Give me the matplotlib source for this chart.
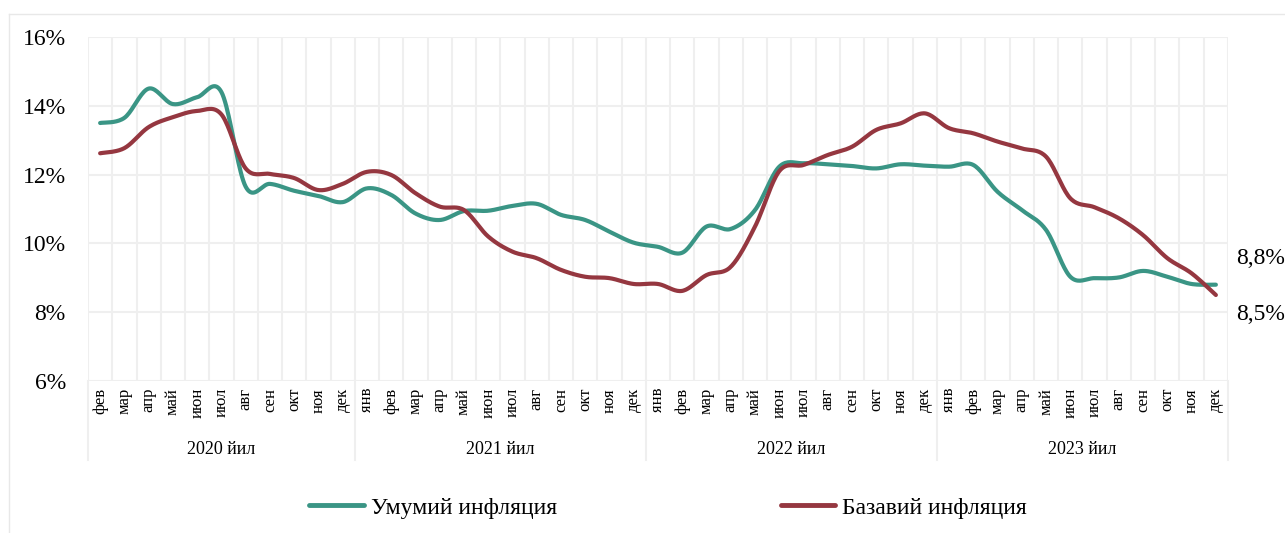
import matplotlib.pyplot as plt
import numpy as np
from matplotlib.lines import Line2D

plt.rcParams['font.family'] = ['Liberation Serif', 'DejaVu Serif']

months_2020 = ['фев', 'мар', 'апр', 'май', 'июн', 'июл', 'авг', 'сен', 'окт', 'ноя', 'дек']
months_full = ['янв', 'фев', 'мар', 'апр', 'май', 'июн', 'июл', 'авг', 'сен', 'окт', 'ноя', 'дек']
month_labels = months_2020 + months_full * 3
year_labels = ['2020 йил', '2021 йил', '2022 йил', '2023 йил']
year_sizes = [11, 12, 12, 12]

headline = [13.5, 13.65, 14.5, 14.05, 14.25, 14.4, 11.65, 11.73, 11.53, 11.38, 11.2,
            11.6, 11.41, 10.87, 10.68, 10.94, 10.95, 11.09, 11.15, 10.83, 10.68, 10.34, 10.02,
            9.9, 9.73, 10.49, 10.42, 10.97, 12.23, 12.33, 12.3, 12.25, 12.18, 12.3, 12.26,
            12.23, 12.28, 11.5, 10.97, 10.39, 9.03, 8.99, 9.01, 9.2, 9.03, 8.82, 8.8]
core = [12.62, 12.77, 13.38, 13.67, 13.85, 13.75, 12.18, 12.02, 11.9, 11.55, 11.73,
        12.08, 11.99, 11.46, 11.07, 10.97, 10.2, 9.76, 9.57, 9.23, 9.03, 8.99, 8.82,
        8.82, 8.62, 9.08, 9.32, 10.49, 12.1, 12.28, 12.57, 12.81, 13.3, 13.49, 13.78,
        13.35, 13.2, 12.96, 12.76, 12.52, 11.31, 11.05, 10.73, 10.24, 9.57, 9.13, 8.5]
series_names = ['Умумий инфляция', 'Базавий инфляция']
colors = ['#3A9585', '#953740']


def smooth(x, y, n=20):
    # excel-like smoothed line (bezier through points)
    x = np.asarray(x, float)
    y = np.asarray(y, float)
    px = np.concatenate([[x[0]], x, [x[-1]]])
    py = np.concatenate([[y[0]], y, [y[-1]]])
    t = np.linspace(0, 1, n, endpoint=False)
    xs, ys = [], []
    for i in range(1, len(px) - 2):
        for p, out in ((px, xs), (py, ys)):
            p0, p1, p2, p3 = p[i - 1], p[i], p[i + 1], p[i + 2]
            c1 = p1 + (p2 - p0) / 6
            c2 = p2 - (p3 - p1) / 6
            out.append((1 - t) ** 3 * p1 + 3 * (1 - t) ** 2 * t * c1 + 3 * (1 - t) * t ** 2 * c2 + t ** 3 * p2)
    xs.append([x[-1]])
    ys.append([y[-1]])
    return np.concatenate(xs), np.concatenate(ys)


fig = plt.figure(figsize=(12.85, 5.33), dpi=100)
ax = fig.add_axes([88 / 1285, 1 - 381 / 533, 1140 / 1285, 344 / 533])

x = np.arange(len(month_labels))
for vals, c in zip([headline, core], colors):
    sx, sy = smooth(x, vals)
    ax.plot(sx, sy, color=c, lw=3, solid_capstyle='round', zorder=3)

ax.set_xlim(-0.5, len(month_labels) - 0.5)
ax.set_ylim(6, 16)
ax.set_yticks(np.arange(6, 17, 2))
ax.set_yticklabels([f'{v}%' for v in range(6, 17, 2)], fontsize=17)
ax.set_xticks(x)
ax.set_xticklabels(month_labels, rotation=90, fontsize=12, va='top')
ax.set_xticks(np.arange(-0.5, len(month_labels), 1), minor=True)
ax.tick_params(axis='both', which='both', length=0)
ax.tick_params(axis='y', pad=16)
ax.tick_params(axis='x', pad=5)
ax.grid(True, axis='y', color='#EFEFEF', lw=1.5)
ax.grid(True, axis='x', which='minor', color='#EFEFEF', lw=1.5)
ax.set_axisbelow(True)
for s in ax.spines.values():
    s.set_visible(False)

# year groups below month labels
trans = ax.get_xaxis_transform()
start = -0.5
ax.plot([start, start], [0, -0.23], color='#EFEFEF', lw=1.5, transform=trans, clip_on=False)
for lbl, size in zip(year_labels, year_sizes):
    end = start + size
    ax.plot([end, end], [0, -0.23], color='#EFEFEF', lw=1.5, transform=trans, clip_on=False)
    ax.text((start + end) / 2, -0.2, lbl, transform=trans, ha='center', va='center', fontsize=13)
    start = end

# end labels
ax.annotate('8,8%', xy=(x[-1], headline[-1]), xytext=(20, 26), textcoords='offset pixels',
            fontsize=17, va='center', ha='left', annotation_clip=False)
ax.annotate('8,5%', xy=(x[-1], core[-1]), xytext=(20, -19), textcoords='offset pixels',
            fontsize=17, va='center', ha='left', annotation_clip=False)

handles = [Line2D([], [], color=c, lw=3.5, solid_capstyle='round') for c in colors]
fig.legend(handles, series_names, loc='center', bbox_to_anchor=(0.52, 0.047), ncol=2,
           frameon=False, fontsize=17, handlelength=2.3, handletextpad=0.3, columnspacing=9.5)

# chart area border (left and top edges visible)
fig.add_artist(Line2D([8.5 / 1285, 8.5 / 1285], [0, 1 - 13.5 / 533], color='#E8E8E8', lw=1))
fig.add_artist(Line2D([8.5 / 1285, 1], [1 - 13.5 / 533, 1 - 13.5 / 533], color='#E8E8E8', lw=1))

fig.savefig('out.png', dpi=100)
